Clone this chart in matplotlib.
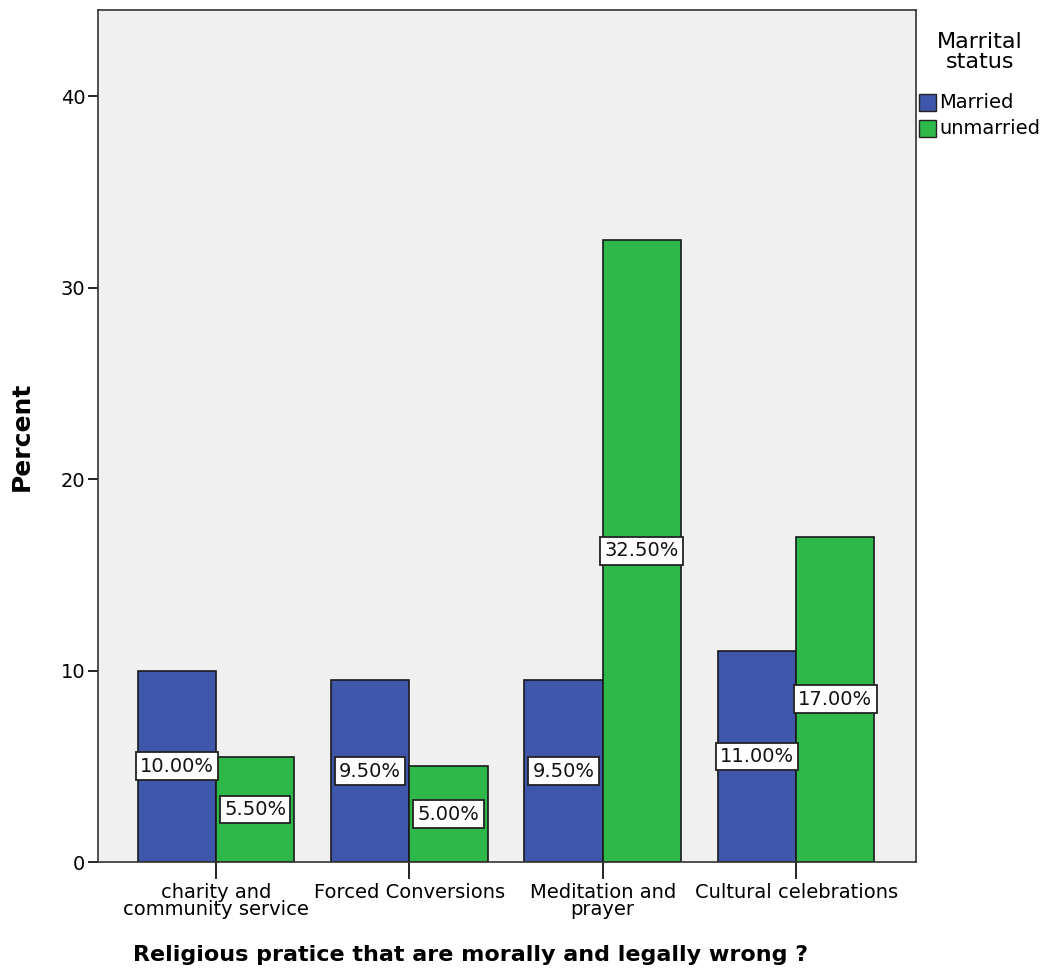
import matplotlib
matplotlib.use("Agg")
import matplotlib.pyplot as plt
from matplotlib.patches import Rectangle
import numpy as np

plt.rcParams['font.family'] = ['DejaVu Sans']

categories = ["charity and\ncommunity service", "Forced Conversions",
              "Meditation and\nprayer", "Cultural celebrations"]
married = [10.0, 9.5, 9.5, 11.0]
unmarried = [5.5, 5.0, 32.5, 17.0]
series_names = ["Married", "unmarried"]
colors = ["#3E57AB", "#2EB84A"]

W, H = 1047, 976
fig = plt.figure(figsize=(W / 100, H / 100), dpi=100)
ax = fig.add_axes([98 / W, 1 - 862 / H, 818 / W, 852 / H])
ax.set_facecolor("#F0F0F0")

x = np.arange(len(categories))
bw = 0.405
for vals, off, col in ((married, -bw / 2, colors[0]), (unmarried, bw / 2, colors[1])):
    bars = ax.bar(x + off, vals, width=bw, color=col, edgecolor="#1a1a1a",
                  linewidth=1.2, zorder=2)
    for b, v in zip(bars, vals):
        ax.text(b.get_x() + b.get_width() / 2, v / 2, f"{v:.2f}%",
                ha="center", va="center", fontsize=14, color="#111111", zorder=4,
                bbox=dict(boxstyle="square,pad=0.22", fc="white", ec="#222222", lw=1.3))

ax.set_xlim(-0.61, 3.62)
ax.set_ylim(0, 44.5)
ax.set_yticks([0, 10, 20, 30, 40])
ax.set_xticks(x)
ax.set_xticklabels(categories, fontsize=14, linespacing=0.88)
ax.tick_params(axis="y", labelsize=14, length=7, width=1.2, direction="out", pad=2)
ax.tick_params(axis="x", length=12, width=1.2, direction="out", pad=3)
for s in ax.spines.values():
    s.set_color("#333333")
    s.set_linewidth(1.2)

fig.text(22 / W, 1 - 436 / H, "Percent", rotation=90, ha="center", va="center",
         fontsize=18, fontweight="bold")
fig.text(471 / W, 1 - 955 / H, "Religious pratice that are morally and legally wrong ?",
         ha="center", va="center", fontsize=16, fontweight="bold")

# legend
fig.text(980 / W, 1 - 52 / H, "Marrital\nstatus", ha="center", va="center",
         fontsize=16, linespacing=1.0)
for i, (name, col) in enumerate(zip(series_names, colors)):
    y0 = 94 + i * 26
    fig.add_artist(Rectangle((919 / W, 1 - (y0 + 17) / H), 17 / W, 17 / H,
                             transform=fig.transFigure, fc=col, ec="#222222", lw=1.0))
    fig.text(939 / W, 1 - (y0 + 9) / H, name, ha="left", va="center", fontsize=14)

fig.savefig("out.png", dpi=100)
